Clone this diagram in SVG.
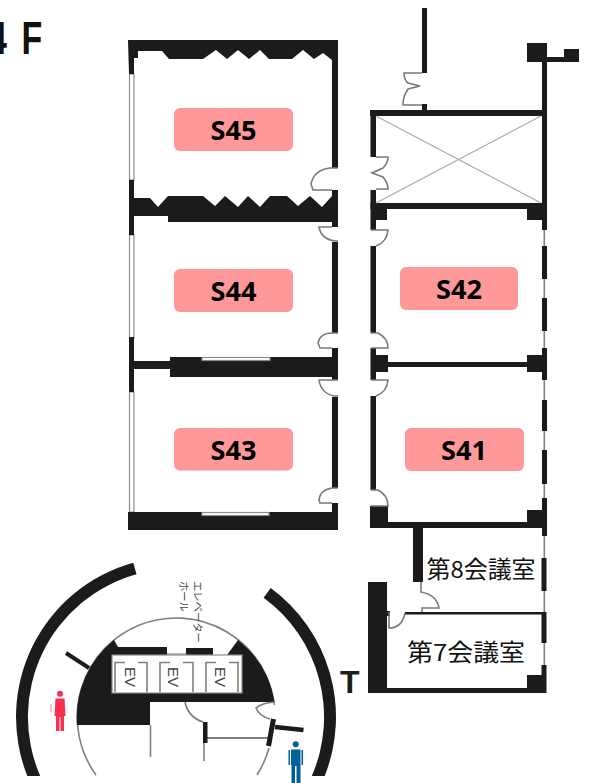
<svg xmlns="http://www.w3.org/2000/svg" width="589" height="783" viewBox="0 0 589 783">
<style>
.w{fill:#1c1a1b}
.d{fill:none;stroke:#7a7a7a;stroke-width:1.6}
.win{fill:#fff;stroke:#8c8c8c;stroke-width:1.2}
.g{fill:none;stroke:#808080;stroke-width:1.6}
.lab{fill:#ff9999}
.lt{font-family:"Open Sans","Liberation Sans",sans-serif;font-weight:700;font-size:26px;fill:#000;text-anchor:middle}
.jp{font-family:"Noto Sans CJK JP",sans-serif;fill:#111}
.ev{font-family:"Liberation Sans",sans-serif;font-size:15px;fill:#444;text-anchor:middle}
.hall{font-family:"Noto Sans CJK JP",sans-serif;font-size:10.3px;fill:#444}
</style>
<rect width="589" height="783" fill="#fff"/>
<text transform="translate(-12 54) scale(.74 1)" font-family="Liberation Sans,sans-serif" font-weight="700" font-size="46" fill="#111">4<tspan dx="7"> F</tspan></text>

<g id="west-wing">
<rect class="win" x="129.500" y="74" width="4.500" height="106"/>
<rect class="win" x="129.500" y="235" width="4.500" height="103"/>
<rect class="win" x="129.500" y="392" width="4.500" height="120"/>
<polygon class="w" points="128,40 338,40 338,168 332,168 332,60 323,53 314,59 303,50 292,59 269,59 260,50 249,59 238,50 227,59 216,50 203,59 169,59 162,51 138,51 138,58 134,58 134,74 129,74"/>
<polygon class="w" points="134,198 150,198 158,207 168,196 203,196 215,206 225,196 238,207 248,196 260,207 270,196 287,196 298,206 310,196 322,207 332,196 332,190 338,190 338,227 332,227 332,222 168,222 168,216 134,216 134,235 129,235 129,180 134,180"/>
<rect class="w" x="332" y="242" width="6" height="91"/>
<rect class="w" x="332" y="348" width="6" height="32"/>
<rect class="w" x="170" y="357" width="168" height="20"/>
<rect class="w" x="134" y="361" width="36" height="8"/>
<rect class="w" x="129" y="337" width="5" height="55"/>
<rect class="win" x="202" y="357.500" width="68" height="3"/>
<rect class="w" x="332" y="397" width="6" height="91"/>
<rect class="w" x="332" y="503" width="6" height="10"/>
<rect class="w" x="128" y="512" width="210" height="18"/>
<rect class="win" x="202" y="512.500" width="67" height="3"/>
<path class="d" d="M338 168H330Q314 170 311 184L313 190H332"/>
<path class="d" d="M332 227H319Q321 239 335 241H338"/>
<path class="d" d="M338 333H332Q320 333 318 343L320 348H332"/>
<path class="d" d="M338 380H319Q321 394 335 396H338"/>
<path class="d" d="M338 488H332Q320 490 319 500L320 503H332"/>
</g>

<g id="east-wing">
<line class="g" x1="544.300" y1="230" x2="544.300" y2="665"/>
<rect class="w" x="422" y="8" width="5" height="65"/>
<rect class="w" x="422" y="104" width="5" height="7"/>
<rect class="w" x="370" y="110" width="177" height="6"/>
<rect class="w" x="542" y="43" width="5" height="187"/>
<rect class="w" x="527" y="43" width="20" height="19"/>
<rect class="w" x="547" y="57" width="18" height="5"/>
<rect class="w" x="564" y="49" width="15" height="13"/>
<rect class="w" x="370.500" y="110" width="5.500" height="47"/>
<rect class="w" x="370.500" y="190" width="5.500" height="40"/>
<rect class="w" x="370.500" y="203" width="176.500" height="6"/>
<rect class="w" x="376" y="209" width="11" height="11"/>
<rect class="w" x="527" y="209" width="15" height="11"/>
<line x1="376" y1="116" x2="541" y2="203" stroke="#a8a8a8" stroke-width="1.200"/>
<line x1="541" y1="116" x2="376" y2="203" stroke="#a8a8a8" stroke-width="1.200"/>
<rect class="w" x="370.500" y="246" width="5.500" height="87"/>
<rect class="w" x="370.500" y="348" width="5.500" height="32"/>
<rect class="w" x="376" y="355" width="12" height="17"/>
<rect class="w" x="388" y="362" width="139" height="5"/>
<rect class="w" x="527" y="355" width="15" height="17"/>
<rect class="w" x="370.500" y="396" width="5.500" height="94"/>
<rect class="w" x="370" y="506" width="18" height="22"/>
<rect class="w" x="388" y="522" width="158" height="6"/>
<rect class="w" x="527" y="510" width="15" height="14"/>
<rect class="w" x="542" y="246" width="5" height="33"/>
<rect class="w" x="542" y="298" width="5" height="33"/>
<rect class="w" x="542" y="348" width="5" height="32"/>
<rect class="w" x="542" y="400" width="5" height="31"/>
<rect class="w" x="542" y="450" width="5" height="34"/>
<rect class="w" x="542" y="498" width="5" height="38"/>
<path class="d" d="M422 73H404Q404 80 408 83L420 86L408 89Q403 96 403 105H422"/>
<path class="d" d="M376 157H388Q388 163 383 168L372 173L383 177Q388 183 388 189H376"/>
<path class="d" d="M371 230H388Q387 242 376 246"/>
<path class="d" d="M371 333H378Q388 338 388 348H371"/>
<path class="d" d="M371 380H388Q387 392 376 396"/>
<path class="d" d="M371 490H378Q388 495 388 506H371"/>
</g>

<g id="meeting-rooms">
<rect class="w" x="413" y="528" width="10" height="54"/>
<rect class="w" x="368" y="582" width="19" height="111"/>
<rect class="w" x="387" y="688" width="159" height="5"/>
<rect class="w" x="527" y="675" width="15" height="14"/>
<rect class="w" x="541.500" y="665" width="5" height="28"/>
<rect class="w" x="541.500" y="558" width="5" height="33"/>
<rect class="w" x="541.500" y="612" width="5" height="31"/>
<rect class="w" x="405" y="612" width="137" height="2.500"/>
<rect class="w" x="387" y="611" width="3" height="5"/>
<path class="d" d="M421 582V592Q437 595 439 608H422V612"/>
<path class="d" d="M389 612V628Q402 628 405 613"/>
<text class="jp" x="426.500" y="578" font-size="23.500" textLength="109" lengthAdjust="spacingAndGlyphs">第8会議室</text>
<text class="jp" x="407" y="661" font-size="23.500" textLength="118" lengthAdjust="spacingAndGlyphs">第7会議室</text>
</g>

<g id="core">
<path class="g" d="M96 775A99 99 0 1 1 274.500 705"/>
<path class="g" d="M269 748A99 99 0 0 1 257 775"/>
<path class="w" d="M133.300 562.800A160 160 0 0 0 27.300 776H40.200A148 148 0 0 1 136.500 574.300Z"/>
<path class="w" d="M270.700 588A160 160 0 0 1 324.700 776H311.800A148 148 0 0 0 263.600 597.700Z"/>
<path class="w" d="M114 640L118 647H167V655H186V648H213V655H227L238 640A99 99 0 0 1 274.500 702H150V725H77A99 99 0 0 1 114 640Z"/>
<rect x="112" y="655" width="130" height="38" fill="#fff" stroke="#8c8c8c" stroke-width="1.200"/>
<line x1="167" y1="654" x2="186" y2="654" stroke="#8c8c8c" stroke-width="1.200"/>
<path class="g" d="M115 692V662.500H125M138 662.500H147V692"/>
<path class="g" d="M160 692V662.500H170M183 662.500H193V692"/>
<path class="g" d="M206 692V662.500H216M229 662.500H238V692"/>
<text class="ev" transform="translate(125 677) rotate(90)">EV</text>
<text class="ev" transform="translate(168 677) rotate(90)">EV</text>
<text class="ev" transform="translate(215 677) rotate(90)">EV</text>
<text class="hall" transform="translate(194 581) rotate(90)">エレベーター</text>
<text class="hall" transform="translate(180 581) rotate(90)">ホール</text>
<line x1="66" y1="653" x2="89" y2="668" stroke="#1c1a1b" stroke-width="4"/>
<line class="g" x1="150.500" y1="725" x2="150.500" y2="757"/>
<line class="g" x1="204" y1="743" x2="204" y2="761"/>
<line x1="207" y1="738" x2="268" y2="738" stroke="#808080" stroke-width="2"/>
<rect class="w" x="203" y="722" width="4.500" height="21"/>
<line x1="273.500" y1="719" x2="268.500" y2="746" stroke="#1c1a1b" stroke-width="5"/>
<line x1="275" y1="727" x2="303.500" y2="730" stroke="#1c1a1b" stroke-width="4.500"/>
<path class="d" d="M185 702Q188 717 203 722"/>
<path class="d" d="M274 702Q262 703 256 708Q259 716 270 719"/>
<text x="340" y="693" font-family="Liberation Sans,sans-serif" font-weight="700" font-size="32" fill="#1c1a1b">T</text>
</g>

<g id="restroom-women" fill="#f9304f">
<circle cx="60" cy="693.700" r="3"/>
<path d="M55.500 698.500H64.500L65.500 716H64V731H60.500V717H59.500V731H56V716H54.500Z"/>
<rect x="50.500" y="704" width="1" height="8" opacity=".6"/>
</g>
<g id="restroom-men" fill="#00609a">
<circle cx="295.700" cy="744.300" r="3"/>
<path d="M291 749.500H300.500V783H296.500V766H295V783H291.500V765H291Z"/>
<rect x="288.500" y="750" width="1.500" height="15"/>
<rect x="301.500" y="750" width="1.500" height="15"/>
</g>

<g id="room-s45"><rect class="lab" x="174" y="108" width="119" height="43" rx="6"/><text class="lt" x="233.500" y="140" textLength="46" lengthAdjust="spacingAndGlyphs">S45</text></g>
<g id="room-s44"><rect class="lab" x="174" y="269" width="119" height="43" rx="6"/><text class="lt" x="233.500" y="301" textLength="46" lengthAdjust="spacingAndGlyphs">S44</text></g>
<g id="room-s43"><rect class="lab" x="174" y="428" width="119" height="42.500" rx="6"/><text class="lt" x="233.500" y="460" textLength="46" lengthAdjust="spacingAndGlyphs">S43</text></g>
<g id="room-s42"><rect class="lab" x="400" y="267" width="118" height="43" rx="6"/><text class="lt" x="459" y="299" textLength="46" lengthAdjust="spacingAndGlyphs">S42</text></g>
<g id="room-s41"><rect class="lab" x="405" y="428" width="119" height="43" rx="6"/><text class="lt" x="464" y="460" textLength="46" lengthAdjust="spacingAndGlyphs">S41</text></g>
</svg>
